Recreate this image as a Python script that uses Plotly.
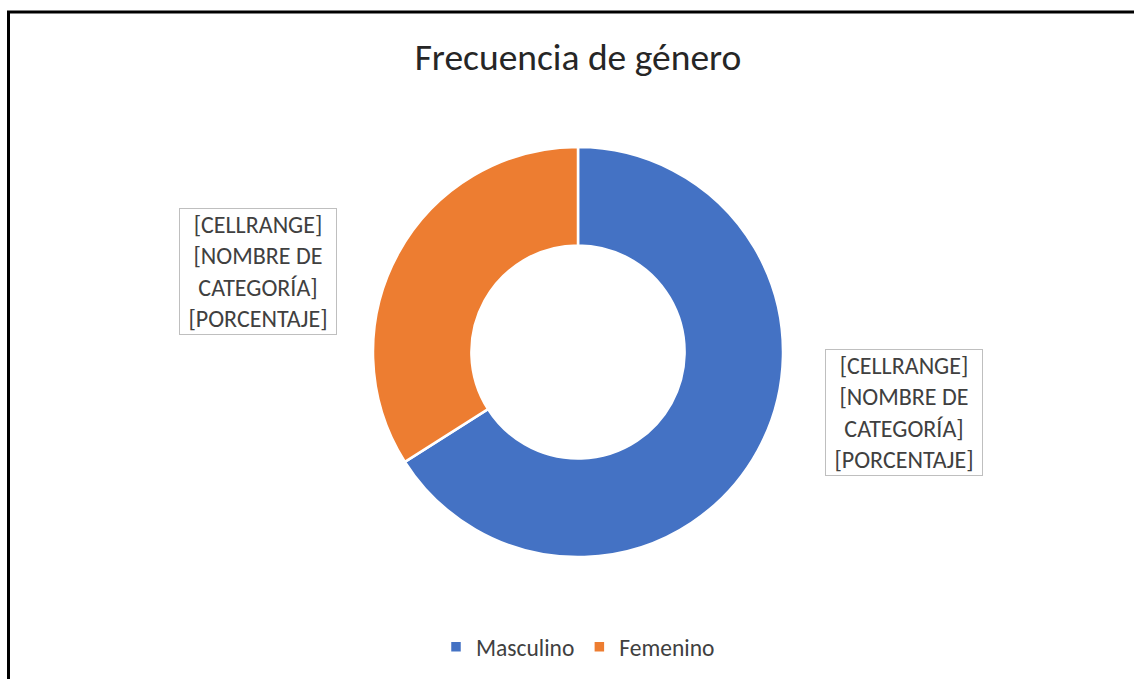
import plotly.graph_objects as go

categories = ["Masculino", "Femenino"]
values = [66, 34]
colors = ["#4472C4", "#ED7D31"]
label_texts = ["[CELLRANGE]<br>[NOMBRE DE<br>CATEGORÍA]<br>[PORCENTAJE]",
               "[CELLRANGE]<br>[NOMBRE DE<br>CATEGORÍA]<br>[PORCENTAJE]"]
title_text = "Frecuencia de género"

W, H = 1134, 679
FONT = "Carlito, Lato, Open Sans, sans-serif"
TXT = "#404040"

cx, cy, r = 578, 352, 205

fig = go.Figure(go.Pie(
    labels=categories,
    values=values,
    hole=0.52,
    sort=False,
    direction="clockwise",
    rotation=0,
    marker=dict(colors=colors, line=dict(color="white", width=2.5)),
    textinfo="none",
    hoverinfo="label+percent",
    domain=dict(x=[(cx - r) / W, (cx + r) / W], y=[1 - (cy + r) / H, 1 - (cy - r) / H]),
))

# data label boxes (Masculino on right, Femenino on left)
label_pos = [((825 + 983) / 2, (350 + 476) / 2), ((179 + 337) / 2, (208 + 335) / 2)]
annotations = []
for txt, (px, py) in zip(label_texts, label_pos):
    annotations.append(dict(
        text=txt, x=px / W, y=1 - py / H, xref="paper", yref="paper",
        showarrow=False, xanchor="center", yanchor="middle",
        font=dict(family=FONT, size=24, color=TXT),
        bordercolor="#BFBFBF", borderwidth=1, borderpad=3,
        width=150, height=119, bgcolor="white", align="center",
    ))

fig.update_layout(
    width=W, height=H,
    margin=dict(l=0, r=0, t=0, b=0),
    paper_bgcolor="white",
    plot_bgcolor="white",
    title=dict(text=title_text, x=cx / W, xanchor="center", y=1 - 57 / H, yanchor="middle",
               xref="paper", yref="paper",
               font=dict(family=FONT, size=37.5, color="#262626")),
    legend=dict(orientation="h", x=cx / W, xanchor="center", y=1 - 647 / H, yanchor="middle",
                font=dict(family=FONT, size=23.5, color=TXT), itemwidth=30,
                traceorder="normal"),
    annotations=annotations,
    shapes=[dict(type="rect", xref="paper", yref="paper",
                 x0=8.5 / W, x1=1.05, y0=-0.05, y1=1 - 12 / H,
                 line=dict(color="black", width=3), fillcolor="rgba(0,0,0,0)")],
)

fig.write_html("out.html", config={"displayModeBar": False},
               post_script="document.body.style.margin='0';document.body.style.overflow='hidden';")
